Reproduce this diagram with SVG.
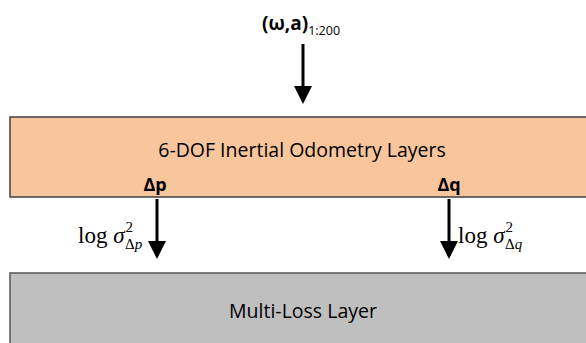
<svg xmlns="http://www.w3.org/2000/svg" width="586" height="343" viewBox="0 0 586 343">
<style>
.sans{font-family:"Open Sans","Noto Sans",sans-serif;fill:#000}
.math{font-family:"Liberation Serif","DejaVu Serif",serif;fill:#000}
.conn{stroke:#000;stroke-width:3;fill:none}
</style>
<defs>
<marker id="ah" markerWidth="6" markerHeight="6" refX="5" refY="3" orient="auto" markerUnits="strokeWidth">
<path d="M0,0 L6,3 L0,6 Z" fill="#000"/>
</marker>
</defs>
<rect width="586" height="343" fill="#fff"/>
<g id="input">
<text class="sans" x="262" y="30" font-size="19" font-weight="bold">(ω,a)<tspan font-size="12.5" font-weight="normal" dy="5">1:200</tspan></text>
</g>
<g id="odometry">
<rect x="10" y="117" width="590" height="80" fill="#F8C59C" stroke="#404040" stroke-width="1.5"/>
<text class="sans" x="302" y="157" font-size="19.5" text-anchor="middle">6-DOF Inertial Odometry Layers</text>
<text class="sans" x="155" y="191" font-size="18" font-weight="bold" text-anchor="middle">Δp</text>
<text class="sans" x="449" y="191" font-size="18" font-weight="bold" text-anchor="middle">Δq</text>
</g>
<g id="multiloss">
<rect x="10" y="273" width="590" height="80" fill="#BFBFBF" stroke="#555" stroke-width="1.5"/>
<text class="sans" x="303" y="318" font-size="19.5" text-anchor="middle">Multi-Loss Layer</text>
</g>
<g id="connectors">
<line class="conn" x1="303" y1="44" x2="303" y2="101" marker-end="url(#ah)"/>
<line class="conn" x1="157" y1="199" x2="157" y2="256" marker-end="url(#ah)"/>
<line class="conn" x1="449" y1="199" x2="449" y2="256" marker-end="url(#ah)"/>
<text class="math" x="78" y="243" font-size="23">log <tspan font-style="italic">σ</tspan><tspan font-size="15" dx="1" dy="-11">2</tspan><tspan font-size="15" dx="-8" dy="17">Δ</tspan><tspan font-size="15" font-style="italic">p</tspan></text>
<text class="math" x="458" y="243" font-size="23">log <tspan font-style="italic">σ</tspan><tspan font-size="15" dx="1" dy="-11">2</tspan><tspan font-size="15" dx="-8" dy="17">Δ</tspan><tspan font-size="15" font-style="italic">q</tspan></text>
</g>
</svg>
